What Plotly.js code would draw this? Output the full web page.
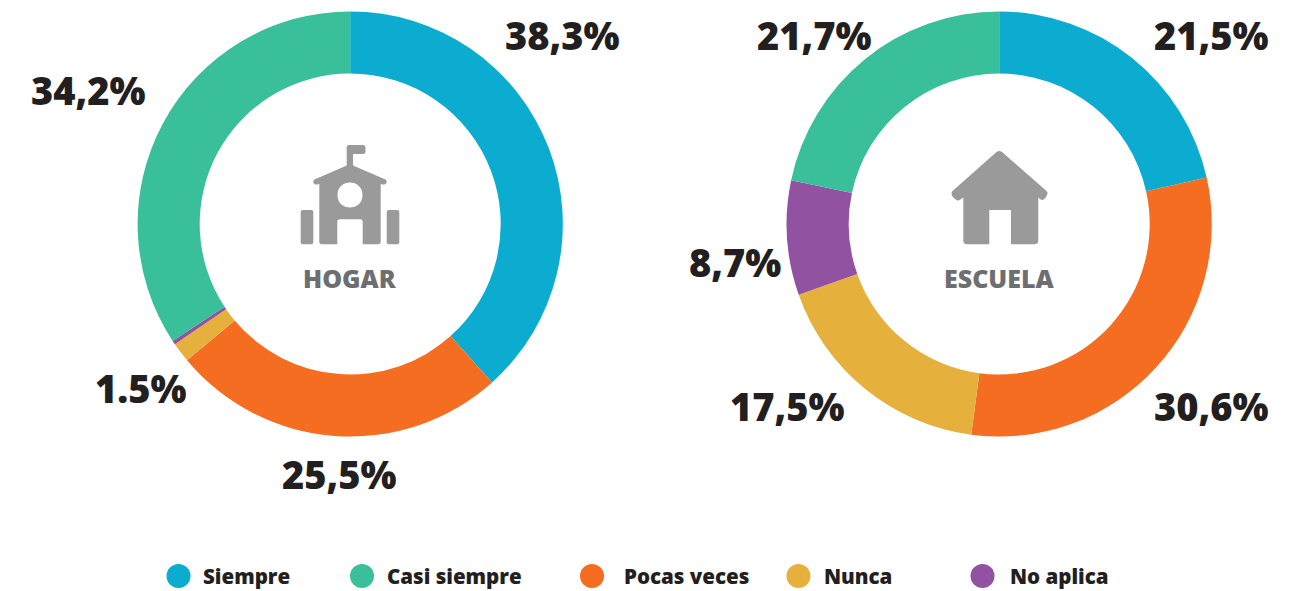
<!DOCTYPE html>
<html>
<head>
<meta charset="utf-8">
<script src="https://cdn.plot.ly/plotly-3.0.1.min.js"></script>
<style>html,body{margin:0;padding:0;background:#fff}#c{width:1303px;height:591px}</style>
</head>
<body>
<div id="c"></div>
<script>
var W = 1303, H = 591;
var categories = ['Siempre', 'Pocas veces', 'Nunca', 'No aplica', 'Casi siempre'];
var colors = ['#0bacd0', '#f56d21', '#e5b13c', '#9153a1', '#39bf9a'];
var hogarValues = [38.3, 25.5, 1.5, 0.3, 34.2];
var escuelaValues = [21.5, 30.6, 17.5, 8.7, 21.7];
var legendOrder = ['Siempre', 'Casi siempre', 'Pocas veces', 'Nunca', 'No aplica'];
var legendDotX = [178.5, 362, 592, 798.5, 982.5];
var legendTextX = [203, 387, 624, 824, 1010];
var hogarLabels = [['38,3%', 562, 35], ['34,2%', 88, 90], ['1.5%', 141, 388], ['25,5%', 339, 474]];
var escuelaLabels = [['21,5%', 1211, 35], ['21,7%', 814, 35], ['8,7%', 735, 262], ['17,5%', 787, 406], ['30,6%', 1211, 406]];
var FONT = '"Open Sans", "Noto Sans", sans-serif';
var ICON = '#999a99';

function px(x) { return x / W; }
function py(y) { return 1 - y / H; }
function pathToPaper(d) {
  return d.replace(/(-?[\d.]+)[ ,](-?[\d.]+)/g, function (m, x, y) {
    return px(+x).toFixed(5) + ',' + py(+y).toFixed(5);
  });
}
function rr(x0, y0, x1, y1, r) {
  return 'M' + (x0 + r) + ' ' + y0 + ' L' + (x1 - r) + ' ' + y0 + ' Q' + x1 + ' ' + y0 + ' ' + x1 + ' ' + (y0 + r) +
    ' L' + x1 + ' ' + (y1 - r) + ' Q' + x1 + ' ' + y1 + ' ' + (x1 - r) + ' ' + y1 +
    ' L' + (x0 + r) + ' ' + y1 + ' Q' + x0 + ' ' + y1 + ' ' + x0 + ' ' + (y1 - r) +
    ' L' + x0 + ' ' + (y0 + r) + ' Q' + x0 + ' ' + y0 + ' ' + (x0 + r) + ' ' + y0 + ' Z';
}
function iconShape(d) {
  return { type: 'path', xref: 'paper', yref: 'paper', path: pathToPaper(d), fillcolor: ICON, line: { width: 0 }, layer: 'above', fillrule: 'evenodd' };
}
function disc(cx, cy, r, col) {
  return { type: 'circle', xref: 'paper', yref: 'paper', x0: px(cx - r), x1: px(cx + r), y0: py(cy + r), y1: py(cy - r), fillcolor: col, line: { width: 0 }, layer: 'above' };
}
function label(t, x, y, size, col, anchor) {
  return { xref: 'paper', yref: 'paper', x: px(x), y: py(y), text: t, showarrow: false, xanchor: anchor || 'center', yanchor: 'middle',
    font: { family: FONT, size: size, color: col, weight: 800 }, borderpad: 0, borderwidth: 0 };
}
function pie(values, cx, cy, R) {
  return { type: 'pie', labels: categories, values: values, sort: false, direction: 'clockwise', rotation: 0, hole: 150.5 / R,
    marker: { colors: colors, line: { width: 0 } }, textinfo: 'none', hoverinfo: 'none', showlegend: false,
    domain: { x: [px(cx - R), px(cx + R)], y: [py(cy + R), py(cy - R)] } };
}

var schoolBody =
  'M346.7 147 Q346.7 145 349 145 L363 145 Q365.5 145 365.5 147.5 L365.5 151.5 Q365.5 154 363 154 L353 154 L353 165.5 ' +
  'L385.5 179.5 Q387.5 181 386.5 183 Q385.5 185 383 184.5 L380.7 184 L380.7 242 Q380.7 244.3 378.4 244.3 L362.7 244.3 ' +
  'L362.7 222 Q362.7 219.3 360 219.3 L340 219.3 Q337.3 219.3 337.3 222 L337.3 244.3 L321.6 244.3 Q319.3 244.3 319.3 242 ' +
  'L319.3 184 L317 184.5 Q314.5 185 313.5 183 Q312.5 181 314.5 179.5 L346.7 165.5 Z ' +
  'M362.5 195 C362.5 211.7 337.5 211.7 337.5 195 C337.5 178.3 362.5 178.3 362.5 195 Z';
var houseBody =
  'M996.5 152 Q999.3 150 1002 152 L1046.5 191 Q1048.5 193 1046.5 196 L1045 198.5 Q1042.5 201 1040 199 L1038.3 197.5 ' +
  'L1038.3 240.5 Q1038.3 244.3 1034.5 244.3 L1011 244.3 L1011 210 L989.3 210 L989.3 244.3 L967 244.3 Q963.3 244.3 963.3 240.5 ' +
  'L963.3 197.5 L960.5 199.5 Q957.5 201.5 955 199 L952.5 196.5 Q950.5 193.5 952.5 191 Z';

var shapes = [
  iconShape(schoolBody),
  iconShape(rr(300.7, 210, 313.3, 244.3, 2)),
  iconShape(rr(386.7, 210, 399.3, 244.3, 2)),
  iconShape(houseBody)
];
var annotations = [];
hogarLabels.concat(escuelaLabels).forEach(function (a) { annotations.push(label(a[0], a[1], a[2], 38, '#231f20')); });
annotations.push(label('HOGAR', 350, 278, 25, '#6d6e70'));
annotations.push(label('ESCUELA', 999, 278, 25, '#6d6e70'));
legendOrder.forEach(function (name, i) {
  shapes.push(disc(legendDotX[i], 576, 12, colors[categories.indexOf(name)]));
  annotations.push(label(name, legendTextX[i], 575.5, 20.5, '#231f20', 'left'));
});

Plotly.newPlot('c', [pie(hogarValues, 350.2, 224, 212.6), pie(escuelaValues, 999.2, 224, 212.6)], {
  width: W, height: H, margin: { l: 0, r: 0, t: 0, b: 0, pad: 0 },
  paper_bgcolor: '#ffffff', plot_bgcolor: '#ffffff', showlegend: false, hovermode: false,
  shapes: shapes, annotations: annotations
}, { displayModeBar: false, staticPlot: true });
</script>
</body>
</html>
